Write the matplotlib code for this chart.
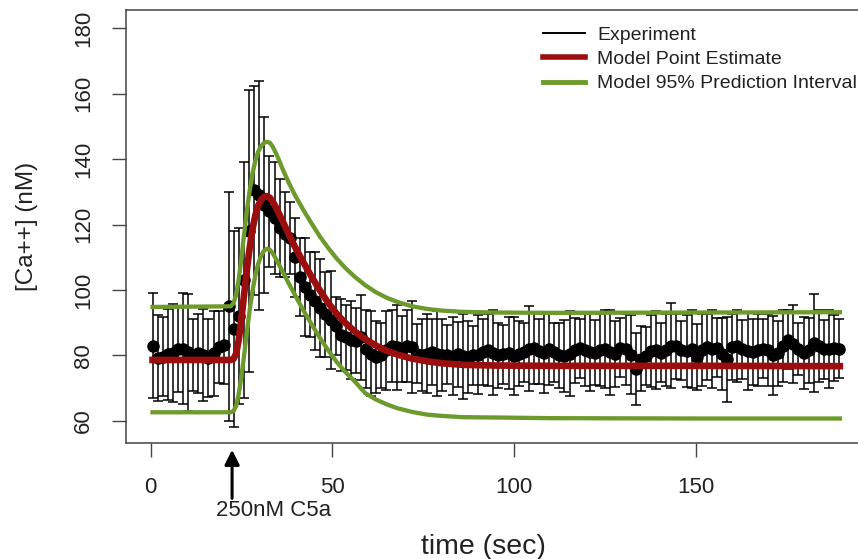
import matplotlib

matplotlib.use("Agg")
import matplotlib.pyplot as plt
from matplotlib.lines import Line2D


# experiment: mean calcium and its error bar half-width per sample (sec)
time = [
    0.5, 1.9, 3.3, 4.7, 6.1, 7.5, 8.9, 10.3, 11.7, 13.1,
    14.5, 15.9, 17.3, 18.7, 20.1, 21.5, 22.9, 24.3, 25.7, 27.1,
    28.5, 29.9, 31.3, 32.7, 34.1, 35.5, 36.9, 38.3, 39.7, 41.1,
    42.5, 43.9, 45.3, 46.7, 48.1, 49.5, 50.9, 52.3, 53.7, 55.1,
    56.5, 57.9, 59.3, 60.7, 62.1, 63.5, 64.9, 66.3, 67.7, 69.1,
    70.5, 71.9, 73.3, 74.7, 76.1, 77.5, 78.9, 80.3, 81.7, 83.1,
    84.5, 85.9, 87.3, 88.7, 90.1, 91.5, 92.9, 94.3, 95.7, 97.1,
    98.5, 99.9, 101.3, 102.7, 104.1, 105.5, 106.9, 108.3, 109.7, 111.1,
    112.5, 113.9, 115.3, 116.7, 118.1, 119.5, 120.9, 122.3, 123.7, 125.1,
    126.5, 127.9, 129.3, 130.7, 132.1, 133.5, 134.9, 136.3, 137.7, 139.1,
    140.5, 141.9, 143.3, 144.7, 146.1, 147.5, 148.9, 150.3, 151.7, 153.1,
    154.5, 155.9, 157.3, 158.7, 160.1, 161.5, 162.9, 164.3, 165.7, 167.1,
    168.5, 169.9, 171.3, 172.7, 174.1, 175.5, 176.9, 178.3, 179.7, 181.1,
    182.5, 183.9, 185.3, 186.7, 188.1, 189.5,
]
calcium = [
    83.0, 79.2, 79.6, 80.3, 80.8, 81.8, 82.0, 80.9, 80.2, 80.6,
    80.1, 79.2, 80.6, 82.5, 83.1, 95.0, 88.0, 92.0, 103.0, 118.0,
    130.5, 129.0, 126.0, 124.0, 122.0, 119.0, 117.0, 116.0, 110.0, 104.0,
    101.0, 98.5, 96.5, 94.5, 92.5, 90.8, 89.0, 86.2, 85.5, 84.7,
    84.5, 85.5, 82.0, 80.5, 79.5, 80.0, 81.5, 83.0, 82.5, 82.0,
    83.0, 82.5, 80.5, 80.0, 80.5, 81.0, 80.5, 80.0, 80.2, 79.8,
    80.3, 79.8, 79.6, 80.0, 80.2, 81.0, 81.5, 80.8, 80.0, 80.3,
    80.6, 79.8, 80.5, 81.0, 82.0, 82.3, 81.2, 80.6, 81.8, 81.0,
    80.0, 79.8, 80.5, 81.5, 82.2, 81.5, 81.0, 80.8, 81.5, 82.0,
    81.0, 80.4, 82.3, 81.8, 80.2, 75.8, 79.0, 79.8, 81.2, 81.6,
    80.8, 81.5, 83.0, 82.8, 81.6, 81.2, 82.0, 79.5, 81.5, 82.5,
    82.0, 82.3, 80.5, 78.8, 82.5, 83.0, 81.8, 81.3, 81.0, 81.5,
    82.0, 81.5, 80.0, 80.6, 83.0, 84.8, 83.5, 82.0, 80.8, 81.5,
    83.7, 82.8, 81.8, 82.0, 82.2, 82.0,
]
calcium_err = [
    16, 13, 12, 14, 15, 13, 17, 18, 11, 12,
    14, 12, 13, 11, 12, 35, 30, 27, 36, 43,
    32, 35, 27, 17, 17, 15, 13, 11, 12, 12,
    15, 13, 15, 15, 13, 15, 9, 11, 10, 12,
    10, 13, 12, 13, 11, 10, 12, 11, 13, 10,
    11, 14, 9, 11, 12, 10, 13, 11, 9, 12,
    10, 13, 11, 9, 12, 10, 11, 13, 10, 9,
    11, 12, 10, 9, 13, 11, 10, 12, 11, 9,
    10, 11, 13, 10, 9, 11, 12, 10, 11, 12,
    13, 10, 9, 11, 12, 11, 10, 9, 11, 12,
    9, 11, 13, 10, 9, 11, 12, 10, 11, 10,
    12, 9, 11, 13, 10, 11, 9, 12, 10, 11,
    9, 11, 12, 10, 11, 9, 12, 8, 11, 10,
    15, 11, 9, 12, 10, 9,
]

# model curves
model_time = [
    0.5, 22.0, 22.8, 23.5, 24.2, 24.9, 25.6, 26.4, 27.2, 28.0,
    28.8, 29.6, 30.4, 31.2, 32.0, 32.8, 33.6, 34.4, 35.2, 36.5,
    38.0, 39.7, 42.0, 44.3, 46.6, 48.9, 51.2, 53.5, 56.2, 59.0,
    62.0, 65.0, 68.0, 72.0, 76.0, 80.0, 86.0, 95.0, 110.0, 150.0,
    189.7,
]
model_estimate = [
    78.6, 78.6, 78.9, 80.5, 84.5, 90.5, 97.5, 105.5, 112.5, 118.5,
    122.8, 125.8, 127.6, 128.5, 128.7, 128.2, 127.0, 125.4, 123.6, 120.6,
    117.0, 113.2, 108.5, 104.0, 99.8, 96.0, 92.7, 90.0, 87.3, 85.0,
    83.0, 81.4, 80.2, 79.0, 78.2, 77.6, 77.1, 76.9, 76.8, 76.8,
    76.7,
]
model_upper = [
    94.8, 95.0, 96.0, 98.5, 103.0, 109.0, 116.0, 123.5, 130.0, 135.5,
    139.5, 142.3, 144.0, 145.0, 145.3, 145.0, 143.8, 142.0, 140.0, 136.5,
    132.8, 129.0, 124.5, 120.3, 116.3, 112.8, 109.6, 106.8, 104.0, 101.5,
    99.3, 97.6, 96.3, 95.0, 94.2, 93.7, 93.3, 93.1, 93.0, 93.1,
    93.2,
]
model_lower = [
    62.6, 62.6, 63.0, 64.5, 68.0, 73.0, 79.0, 86.5, 93.5, 99.5,
    104.5, 108.0, 110.5, 112.0, 112.6, 112.3, 111.2, 109.7, 108.0, 105.2,
    102.0, 98.5, 93.8, 89.5, 85.3, 81.5, 78.0, 75.0, 72.0, 68.5,
    66.5, 65.0, 63.8, 62.7, 61.9, 61.5, 61.1, 61.0, 60.8, 60.7,
    60.7,
]

stimulus_time = 22.4
stimulus_label = "250nM C5a"
legend_labels = ["Experiment", "Model Point Estimate", "Model 95% Prediction Interval"]

RED = "#9a0e0e"
GREEN = "#6d9a2c"
AXIS = "#444444"
TEXT = "#222222"


def main() -> None:
    plt.rcParams["font.family"] = ["Liberation Sans", "DejaVu Sans"]
    fig = plt.figure(figsize=(8.58, 5.59), dpi=100)
    ax = fig.add_axes([126 / 858, 116.3 / 559, 732 / 858, 432.7 / 559])

    ax.errorbar(time, calcium, yerr=calcium_err, fmt="o", color="black", ms=8,
                elinewidth=1.1, capsize=3.5, capthick=1.1, zorder=2)
    ax.plot(model_time, model_upper, color=GREEN, lw=3.1, zorder=3)
    ax.plot(model_time, model_lower, color=GREEN, lw=3.1, zorder=3)
    ax.plot(model_time, model_estimate, color=RED, lw=4.8, zorder=4)

    ax.set_xlim(-6.8, 194.7)
    ax.set_ylim(53.3, 185.6)
    ax.set_xticks([0, 50, 100, 150])
    ax.set_yticks([60, 80, 100, 120, 140, 160, 180])
    ax.spines["right"].set_visible(False)
    for side in ("left", "top", "bottom"):
        ax.spines[side].set_color(AXIS)
        ax.spines[side].set_linewidth(1.1)
    ax.tick_params(axis="both", length=10, width=1, color=AXIS, labelsize=16, labelcolor=TEXT)
    ax.tick_params(axis="x", pad=15)
    ax.tick_params(axis="y", pad=13)
    for label in ax.get_yticklabels():
        label.set_rotation(90)
        label.set_va("center")

    ax.set_xlabel("time (sec)", fontsize=20.5, color=TEXT)
    ax.xaxis.set_label_coords(0.488, -0.24)
    ax.xaxis.label.set_va("center")
    ax.set_ylabel("[Ca++] (nM)", fontsize=17.5, color=TEXT)
    ax.yaxis.set_label_coords(-0.135, 0.5)
    ax.yaxis.label.set_va("center")

    trans = ax.get_xaxis_transform()
    ax.annotate("", xy=(stimulus_time, -0.01), xytext=(stimulus_time, -0.135), xycoords=trans,
                arrowprops=dict(arrowstyle="-|>", color="black", lw=2.2, mutation_scale=22),
                annotation_clip=False)
    ax.text(stimulus_time - 4.4, -0.157, stimulus_label, transform=trans, ha="left", va="center",
            fontsize=16, color=TEXT)

    handles = [
        Line2D([], [], color="black", lw=1.4),
        Line2D([], [], color=RED, lw=4),
        Line2D([], [], color=GREEN, lw=3.5),
    ]
    ax.legend(handles, legend_labels, loc="upper left", bbox_to_anchor=(543 / 858, 1 - 26 / 559),
              bbox_transform=fig.transFigure, frameon=False, borderpad=0, borderaxespad=0,
              handlelength=2.15, handletextpad=0.65, labelspacing=0.35, fontsize=14,
              labelcolor=TEXT)

    fig.savefig("out.png", dpi=100)
    plt.close(fig)


if __name__ == "__main__":
    main()
